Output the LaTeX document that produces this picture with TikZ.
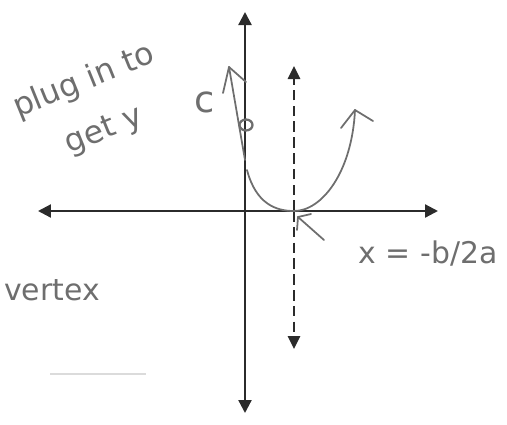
\documentclass[tikz,border=0pt]{standalone}
\usepackage{fontspec}
\setmainfont{DejaVu Sans}
\usepackage{tikz}
\usetikzlibrary{arrows.meta, positioning, shapes.geometric}
\definecolor{inkgray}{HTML}{2B2B2B}
\definecolor{pencil}{HTML}{6E6E6E}

\begin{document}
\begin{tikzpicture}[
    x=0.02cm, y=-0.02cm,
    every node/.style={text=pencil},
    axis/.style={
        line width=1.3pt,
        draw=inkgray,
        -{Triangle[length=2.6mm, width=2.6mm]}
    },
    symline/.style={
        line width=1.6pt,
        draw=inkgray,
        dash pattern=on 6pt off 3pt,
        -{Triangle[length=2.6mm, width=2.4mm]}
    },
    sketch/.style={
        line width=1pt,
        draw=pencil,
        line cap=round,
        line join=round
    },
    note/.style={
        font=\fontsize{17}{18}\selectfont,
        inner sep=1pt,
        align=center
    }
]
\useasboundingbox (0,0) rectangle (507,424);

% Axes
\coordinate (origin) at (245,211);
\coordinate (ytop) at (245,12);
\coordinate (ybot) at (245,413);
\coordinate (xleft) at (38,211);
\coordinate (xright) at (438,211);
\draw[axis] (origin) -- (ytop);
\draw[axis] (origin) -- (ybot);
\draw[axis] (origin) -- (xleft);
\draw[axis] (origin) -- (xright);

% Axis of symmetry
\coordinate (vert) at (294,211);
\coordinate (symtop) at (294,66);
\coordinate (symbot) at (294,349);
\draw[symline] (vert) -- (symtop);
\draw[symline] (vert) -- (symbot);

% Parabola
\coordinate (pstart) at (247,170);
\coordinate (pend) at (355,110);
\draw[sketch] (pstart) .. controls (256,204) and (276,211) .. (vert)
    .. controls (322,211) and (352,172) .. (pend);
\draw[sketch] (pend) -- (341,128);
\draw[sketch] (pend) -- (373,121);

% y-intercept c
\node[sketch, ellipse, draw, inner sep=0pt, line width=1.3pt,
      minimum width=0.26cm, minimum height=0.22cm] (yint) at (246,125) {};
\coordinate (cbase) at (245,160);
\coordinate (ctip) at (229,67);
\draw[sketch] (cbase) -- (ctip);
\draw[sketch] (ctip) -- (223,93);
\draw[sketch] (ctip) -- (246,82);
\node[note, font=\fontsize{21}{21}\selectfont] (clabel) at (205,102) {c};

% Vertex pointer
\coordinate (vtail) at (324,240);
\coordinate (vtip) at (298,217);
\draw[sketch] (vtail) -- (vtip);
\draw[sketch] (vtip) -- (297,230);
\draw[sketch] (vtip) -- (311,214);
\node[note] (xformula) at (428,254) {x = -b/2a};

% Side notes
\node[note, rotate=22, font=\fontsize{18}{30}\selectfont] (plugin) at (94,106) {plug in to\\get y};
\node[note, anchor=west] (vertex) at (2,290) {vertex};
\draw[pencil!25, line width=0.8pt] (50,374) -- (146,374);

\end{tikzpicture}
\end{document}
